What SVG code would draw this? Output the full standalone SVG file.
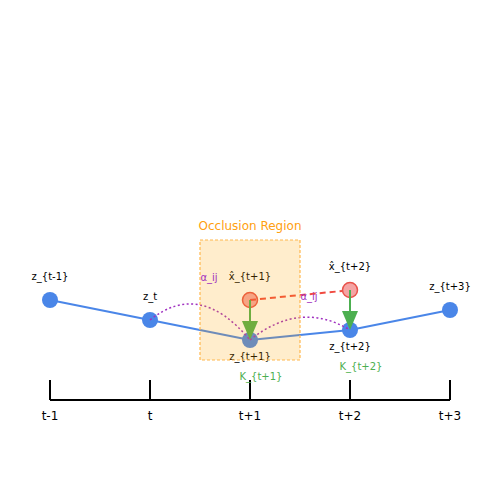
<svg xmlns="http://www.w3.org/2000/svg" width="500" height="500" viewBox="0 0 500 500">
<defs>
<style>
text{font-family:"DejaVu Sans",sans-serif;font-size:10px;text-anchor:middle;fill:#000}
.z{fill:#4a86e8}
.x{fill:#f4a4a4;stroke:#e8524a;stroke-width:1.5}
.traj{fill:none;stroke:#4a86e8;stroke-width:2}
.att{fill:none;stroke:#a030c0;stroke-width:1.5;stroke-dasharray:2,2.5}
.pred{fill:none;stroke:#f04a40;stroke-width:2;stroke-dasharray:6,4}
.kal{stroke:#4caf50;stroke-width:2}
.kh{fill:#4caf50}
.ax{stroke:#000;stroke-width:2;fill:none}
.tick{font-size:12px}
.g{fill:#4caf50}
.p{fill:#a030c0}
</style>
</defs>
<g id="axis">
<path class="ax" d="M50,400H450M50,380V400M150,380V400M250,380V400M350,380V400M450,380V400"/>
<text class="tick" x="50" y="420">t-1</text>
<text class="tick" x="150" y="420">t</text>
<text class="tick" x="250" y="420">t+1</text>
<text class="tick" x="350" y="420">t+2</text>
<text class="tick" x="450" y="420">t+3</text>
</g>
<g id="connectors">
<polyline class="traj" points="50,300 150,320 250,340 350,330 450,310"/>
</g>
<g id="z_tm1"><circle class="z" cx="50" cy="300" r="8"/><text x="50" y="280">z_{t-1}</text></g>
<g id="z_t"><circle class="z" cx="150" cy="320" r="8"/><text x="150" y="300">z_t</text></g>
<g id="z_t1"><circle class="z" cx="250" cy="340" r="8"/><text x="250" y="360">z_{t+1}</text></g>
<g id="z_t2"><circle class="z" cx="350" cy="330" r="8"/><text x="350" y="350">z_{t+2}</text></g>
<g id="z_t3"><circle class="z" cx="450" cy="310" r="8"/><text x="450" y="290">z_{t+3}</text></g>
<g id="xh_t1"><circle class="x" cx="250" cy="300" r="7.5"/><text x="250" y="280">x̂_{t+1}</text></g>
<g id="xh_t2"><circle class="x" cx="350" cy="290" r="7.5"/><text x="350" y="270">x̂_{t+2}</text></g>
<g id="links">
<path class="att" d="M150,320Q200,280 250,340"/>
<path class="att" d="M250,340Q300,300 350,330"/>
<path class="pred" d="M250,300L342,291"/>
<line class="kal" x1="250" y1="300" x2="250" y2="323"/>
<polygon class="kh" points="242,321 258,321 250,340"/>
<line class="kal" x1="350" y1="290" x2="350" y2="313"/>
<polygon class="kh" points="342,311 358,311 350,330"/>
</g>
<g id="occlusion">
<rect x="200" y="240" width="100" height="120" fill="#ffa500" fill-opacity="0.2" stroke="#ffb74d" stroke-width="1.2" stroke-dasharray="3,2"/>
<text x="250" y="230" style="fill:#ffa010;font-size:12px">Occlusion Region</text>
</g>
<g id="labels">
<text class="p" x="209" y="281">α_ij</text>
<text class="p" x="309" y="300">α_ij</text>
<text class="g" x="261" y="380">K_{t+1}</text>
<text class="g" x="361" y="370">K_{t+2}</text>
</g>
</svg>
